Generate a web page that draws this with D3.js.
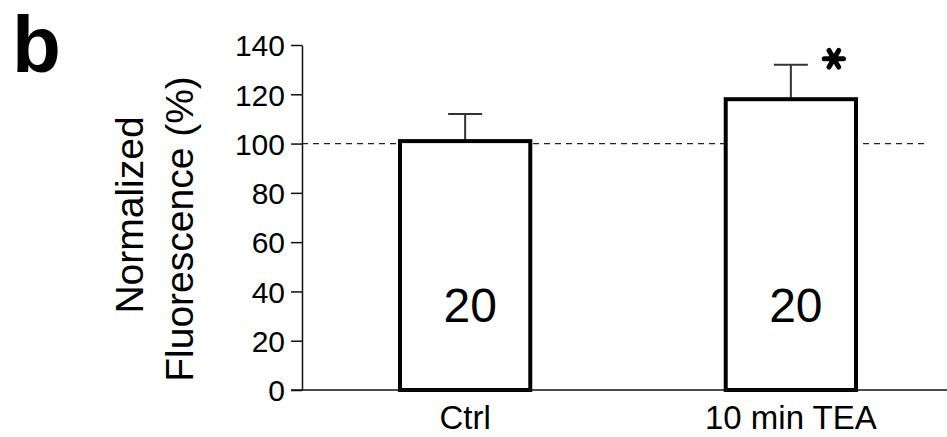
<!DOCTYPE html>
<html>
<head>
<meta charset="utf-8">
<script src="https://cdn.jsdelivr.net/npm/d3@7"></script>
<style>
  body { margin: 0; background: #fff; }
  text { font-family: "Liberation Sans", Arial, sans-serif; fill: #000; }
</style>
</head>
<body>
<div class="graph"></div>
<script>
let categories = ["Ctrl", "10 min TEA"];
let means = [101, 118];
let errors = [11, 14];
let counts = ["20", "20"];
let yTicks = [0, 20, 40, 60, 80, 100, 120, 140];
let reference = 100;

let width = 947;
let height = 437;

let svg = d3.select('.graph')
    .append('svg')
    .attr('width', width)
    .attr('height', height);

let y = d3.scaleLinear()
    .domain([0, 140])
    .range([390, 45]);

let x = d3.scaleBand()
    .domain(categories)
    .range([400, 856])
    .paddingInner(0.6);

// ligne pointillée à 100 %
svg.append('line')
    .attr('x1', 302)
    .attr('x2', 924)
    .attr('y1', y(reference))
    .attr('y2', y(reference))
    .attr('stroke', '#222')
    .attr('stroke-width', 1.3)
    .attr('stroke-dasharray', '6,5');

// barres d'erreur
categories.forEach(function (c, i) {
    let cx = x(c) + x.bandwidth() / 2;
    svg.append('line')
        .attr('x1', cx).attr('x2', cx)
        .attr('y1', y(means[i])).attr('y2', y(means[i] + errors[i]))
        .attr('stroke', '#333').attr('stroke-width', 2);
    svg.append('line')
        .attr('x1', cx - 17).attr('x2', cx + 17)
        .attr('y1', y(means[i] + errors[i])).attr('y2', y(means[i] + errors[i]))
        .attr('stroke', '#333').attr('stroke-width', 2);
});

// barres
svg.selectAll('rect.bar')
    .data(means)
    .enter()
    .append('rect')
    .attr('class', 'bar')
    .attr('x', (d, i) => x(categories[i]))
    .attr('y', d => y(d))
    .attr('width', x.bandwidth())
    .attr('height', d => y(0) - y(d))
    .attr('fill', '#fff')
    .attr('stroke', '#000')
    .attr('stroke-width', 4);

// effectifs dans les barres
svg.selectAll('text.count')
    .data(counts)
    .enter()
    .append('text')
    .attr('class', 'count')
    .attr('x', (d, i) => x(categories[i]) + x.bandwidth() / 2 + 5)
    .attr('y', 322)
    .attr('text-anchor', 'middle')
    .style('font-size', '48px')
    .text(d => d);

// axe y
let yAxis = d3.axisLeft(y)
    .tickValues(yTicks)
    .tickSize(11)
    .tickPadding(6)
    .tickSizeOuter(0);
let gy = svg.append('g')
    .attr('transform', 'translate(302,0)')
    .call(yAxis);
gy.select('.domain').attr('stroke', '#111').attr('stroke-width', 1.5);
gy.selectAll('.tick line').attr('stroke', '#111').attr('stroke-width', 1.5);
gy.selectAll('.tick text')
    .style('font-size', '30px')
    .attr('font-family', '"Liberation Sans", Arial, sans-serif')
    .attr('fill', '#000')
    .attr('dy', '0.36em');

// axe x
let xAxis = d3.axisBottom(x).tickSize(0).tickPadding(0);
let gx = svg.append('g')
    .attr('transform', 'translate(0,' + y(0) + ')')
    .call(xAxis);
gx.select('.domain').attr('d', 'M291,0H947').attr('stroke', '#111').attr('stroke-width', 1.5);
gx.selectAll('.tick text')
    .style('font-size', '33px')
    .attr('font-family', '"Liberation Sans", Arial, sans-serif')
    .attr('fill', '#000')
    .attr('dy', null)
    .attr('y', 39);

// étoile de significativité
svg.append('path')
    .attr('d', d3.symbol().type(d3.symbolAsterisk).size(260)())
    .attr('transform', 'translate(' + (x(categories[1]) + x.bandwidth() * 0.83) + ',' + (y(means[1] + errors[1]) - 6) + ') rotate(90)')
    .attr('fill', 'none')
    .attr('stroke', '#000')
    .attr('stroke-width', 5)
    .attr('stroke-linecap', 'round');

// titre de l'axe y
svg.append('text')
    .attr('transform', 'translate(143,215) rotate(-90)')
    .attr('text-anchor', 'middle')
    .style('font-size', '39px')
    .text('Normalized');
svg.append('text')
    .attr('transform', 'translate(193,229) rotate(-90)')
    .attr('text-anchor', 'middle')
    .style('font-size', '39px')
    .text('Fluorescence (%)');

// lettre du panneau
svg.append('text')
    .attr('x', 12)
    .attr('y', 72)
    .style('font-size', '80px')
    .style('font-weight', 'bold')
    .text('b');
</script>
</body>
</html>
